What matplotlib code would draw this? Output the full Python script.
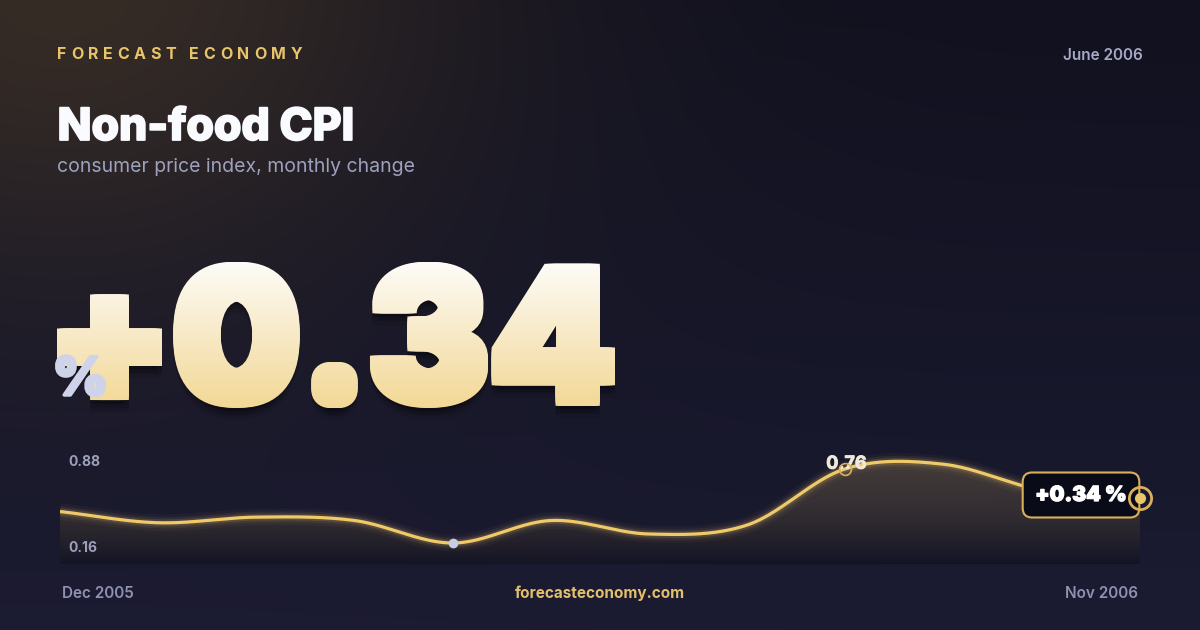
import numpy as np
import matplotlib
matplotlib.use("Agg")
import matplotlib.pyplot as plt
import matplotlib.patheffects as pe
from matplotlib.textpath import TextPath
from matplotlib.font_manager import FontProperties
from matplotlib.patches import PathPatch
from matplotlib.transforms import Affine2D, blended_transform_factory

# data
months = ["Dec 2005", "Jan 2006", "Feb 2006", "Mar 2006", "Apr 2006", "May 2006",
          "Jun 2006", "Jul 2006", "Aug 2006", "Sep 2006", "Oct 2006", "Nov 2006"]
values = [0.44, 0.34, 0.39, 0.36, 0.16, 0.36, 0.24, 0.32, 0.82, 0.86, 0.63, 0.56]
axis_labels = [0.88, 0.16]
peak_index = 8
peak_label = "0.76"
headline = "+0.34"
latest_label = "+0.34 %"

brand = "FORECAST ECONOMY"
date_label = "June 2006"
title = "Non-food CPI"
subtitle = "consumer price index, monthly change"
site = "forecasteconomy.com"

GOLD = "#f0c96a"
GOLD_DARK = "#d9b05a"
FONT = "Inter"

W, H = 1200, 630
fig = plt.figure(figsize=(12, 6.3), dpi=100)

# background: navy with a warm glow in the top-left corner
bg = fig.add_axes([0, 0, 1, 1])
yy, xx = np.mgrid[0:H, 0:W]
t = (yy / H)[..., None]
img = np.array([17, 17, 31]) * (1 - t) + np.array([27, 27, 50]) * t
r = np.sqrt((xx - 60) ** 2 + ((yy + 30) * 1.3) ** 2)
glow = (np.exp(-(r / 420) ** 2) * 0.75)[..., None]
img = img * (1 - glow) + np.array([66, 53, 40]) * glow
bg.imshow(img.astype(np.uint8), extent=(0, W, H, 0), aspect="auto", zorder=0)

renderer = fig.canvas.get_renderer()


def text_width(s, size, weight):
    prop = FontProperties(family=FONT, size=size, weight=weight)
    w, _, _ = renderer.get_text_width_height_descent(s, prop, ismath=False)
    return w


def heavy(color, lw):
    # fake a heavier weight than the installed fonts have
    return [pe.withStroke(linewidth=lw, foreground=color)]


# letter spaced brand name
brand_size, brand_weight = 11.5, 700
advances = [text_width("H" + c + "H", brand_size, brand_weight) - text_width("HH", brand_size, brand_weight)
            for c in brand]
track = (245 - sum(advances)) / (len(brand) - 1)
x = 57
for c, adv in zip(brand, advances):
    bg.text(x, 59, c, fontsize=brand_size, fontweight=brand_weight, color="#e8c46a",
            family=FONT, va="baseline", ha="left")
    x += adv + track

bg.text(1143, 60, date_label, fontsize=11, fontweight=600, color="#a7aac6", family=FONT,
        va="baseline", ha="right")
bg.text(57.5, 140, title, fontsize=32, fontweight=800, color="#fafbff", family=FONT, va="baseline",
        path_effects=heavy("#fafbff", 1.3))
bg.text(57, 172, subtitle, fontsize=14, fontweight=400, color="#9ea1bd", family=FONT, va="baseline")

# big headline number with a vertical white -> pale gold gradient
big = TextPath((0, 0), headline, size=100, prop=FontProperties(family=FONT, weight=900))
ex = big.get_extents()
grow = 5
left, right, top, bottom = 57 + grow, 615 - grow, 262 + grow, 408 - grow
tr = Affine2D().translate(-ex.x0, -ex.y1).scale((right - left) / ex.width, -(bottom - top) / ex.height) \
    .translate(left, top)
big_path = tr.transform_path(big)
for dy, a in [(12, 0.08), (8, 0.12), (4, 0.16)]:
    shadow = Affine2D().translate(0, dy).transform_path(big_path)
    bg.add_patch(PathPatch(shadow, fc="black", ec="black", lw=2 * grow * 0.72, alpha=a, joinstyle="miter",
                           zorder=2))
g = np.linspace(0, 1, 256)[:, None, None]
grad = (np.array([253, 252, 248]) * (1 - g) + np.array([243, 216, 150]) * g).astype(np.uint8)
steps = np.linspace(-grow, grow, 5)
for dx in steps:
    for dy in steps:
        moved = Affine2D().translate(dx, dy).transform_path(big_path)
        patch = PathPatch(moved, fc="none", ec="none", zorder=3)
        bg.add_patch(patch)
        im = bg.imshow(grad, extent=(57, 615, 408, 262), aspect="auto", zorder=3)
        im.set_clip_path(patch)
bg.text(53, 395, "%", fontsize=38, fontweight=900, color="#cfd3ea", family=FONT, va="baseline",
        ha="left", zorder=4, path_effects=heavy("#cfd3ea", 2.5))

# footer
bg.text(62, 598, months[0], fontsize=11, fontweight=600, color="#8e92b0", family=FONT, va="baseline")
bg.text(600, 598, site, fontsize=11, fontweight=700, color="#e3bf6c", family=FONT, va="baseline",
        ha="center")
bg.text(1138, 598, months[-1], fontsize=11, fontweight=600, color="#8e92b0", family=FONT,
        va="baseline", ha="right")

bg.set_xlim(0, W)
bg.set_ylim(H, 0)
bg.axis("off")

# sparkline chart
px_per_unit = 112.5
chart_bottom_px, chart_top_px, base_px = 564, 430, 543
vb = axis_labels[1] - (chart_bottom_px - base_px) / px_per_unit
vt = axis_labels[1] + (base_px - chart_top_px) / px_per_unit
ax = fig.add_axes([60 / W, (H - chart_bottom_px) / H, 1080 / W, (chart_bottom_px - chart_top_px) / H])
ax.set_xlim(0, len(values) - 1)
ax.set_ylim(vb, vt)
ax.axis("off")


def catmull_rom(y, n=40):
    y = np.asarray(y, dtype=float)
    p = np.concatenate([[2 * y[0] - y[1]], y, [2 * y[-1] - y[-2]]])
    tt = np.linspace(0, 1, n, endpoint=False)
    xs, ys = [], []
    for i in range(len(y) - 1):
        p0, p1, p2, p3 = p[i:i + 4]
        m1, m2 = (p2 - p0) / 2, (p3 - p1) / 2
        h00 = 2 * tt ** 3 - 3 * tt ** 2 + 1
        h10 = tt ** 3 - 2 * tt ** 2 + tt
        h01 = -2 * tt ** 3 + 3 * tt ** 2
        h11 = tt ** 3 - tt ** 2
        xs.append(i + tt)
        ys.append(h00 * p1 + h10 * m1 + h01 * p2 + h11 * m2)
    xs.append([len(y) - 1])
    ys.append([y[-1]])
    return np.concatenate(xs), np.concatenate(ys)


xs, ys = catmull_rom(values)

# gradient fill under the curve
area = ax.fill_between(xs, ys, vb, color="none", lw=0)
gf = np.linspace(0, 1, 256)[:, None]
fill = np.zeros((256, 1, 4))
fill[..., :3] = (np.array([240, 200, 106]) * (1 - gf[..., None]) + np.array([8, 8, 16]) * gf[..., None]) / 255
fill[..., 3] = (0.2 * (1 - gf) + 0.32 * gf)
fim = ax.imshow(fill, extent=(0, len(values) - 1, vb, ys.max()), aspect="auto", origin="upper", zorder=1)
fim.set_clip_path(area.get_paths()[0], transform=ax.transData)

for lw, a in [(12, 0.04), (8, 0.07), (5, 0.14)]:
    ax.plot(xs, ys, color=GOLD, lw=lw, alpha=a, solid_capstyle="butt", zorder=2)
ax.plot(xs, ys, color=GOLD, lw=2.3, solid_capstyle="butt", zorder=3)

# y range labels
ylab = blended_transform_factory(ax.transAxes, ax.transData)
ax.annotate(f"{axis_labels[0]:.2f}", xy=(0.008, axis_labels[0]), xycoords=ylab, xytext=(0, -4),
            textcoords="offset pixels", fontsize=10, fontweight=700, color="#9ea1bc", family=FONT,
            va="baseline", ha="left")
ax.annotate(f"{axis_labels[1]:.2f}", xy=(0.008, axis_labels[1]), xycoords=ylab, xytext=(0, -9),
            textcoords="offset pixels", fontsize=10, fontweight=700, color="#9ea1bc", family=FONT,
            va="baseline", ha="left")

# min point
imin = int(np.argmin(values))
ax.plot(imin, values[imin], "o", ms=7, mfc="#c8cce6", mec="none", zorder=5, clip_on=False)

# labelled point
ax.annotate(peak_label, xy=(peak_index, values[peak_index]), xytext=(1, 0), textcoords="offset pixels",
            fontsize=13, fontweight=700, color="#efe9dc", family=FONT, ha="center", va="baseline", zorder=4,
            path_effects=heavy("#efe9dc", 0.6))
ax.plot(peak_index, values[peak_index], "o", ms=8.5, mfc="none", mec=GOLD_DARK, mew=1.2, zorder=5)

# latest value callout
ax.annotate(latest_label, xy=(len(values) - 1, values[-1]), xytext=(-59, 3), textcoords="offset pixels",
            fontsize=15, fontweight=900, color="white", family=FONT, ha="center", va="center",
            bbox=dict(boxstyle="round,pad=0.6,rounding_size=0.45", fc="#0a0b18", ec=GOLD_DARK, lw=1.5),
            zorder=6, annotation_clip=False, path_effects=heavy("white", 0.9))
ax.plot(len(values) - 1, values[-1], "o", ms=16, mfc="none", mec=GOLD_DARK, mew=2, zorder=7, clip_on=False)
ax.plot(len(values) - 1, values[-1], "o", ms=8, mfc="#e8c46a", mec="none", zorder=8, clip_on=False)

fig.savefig("out.png", dpi=100)
